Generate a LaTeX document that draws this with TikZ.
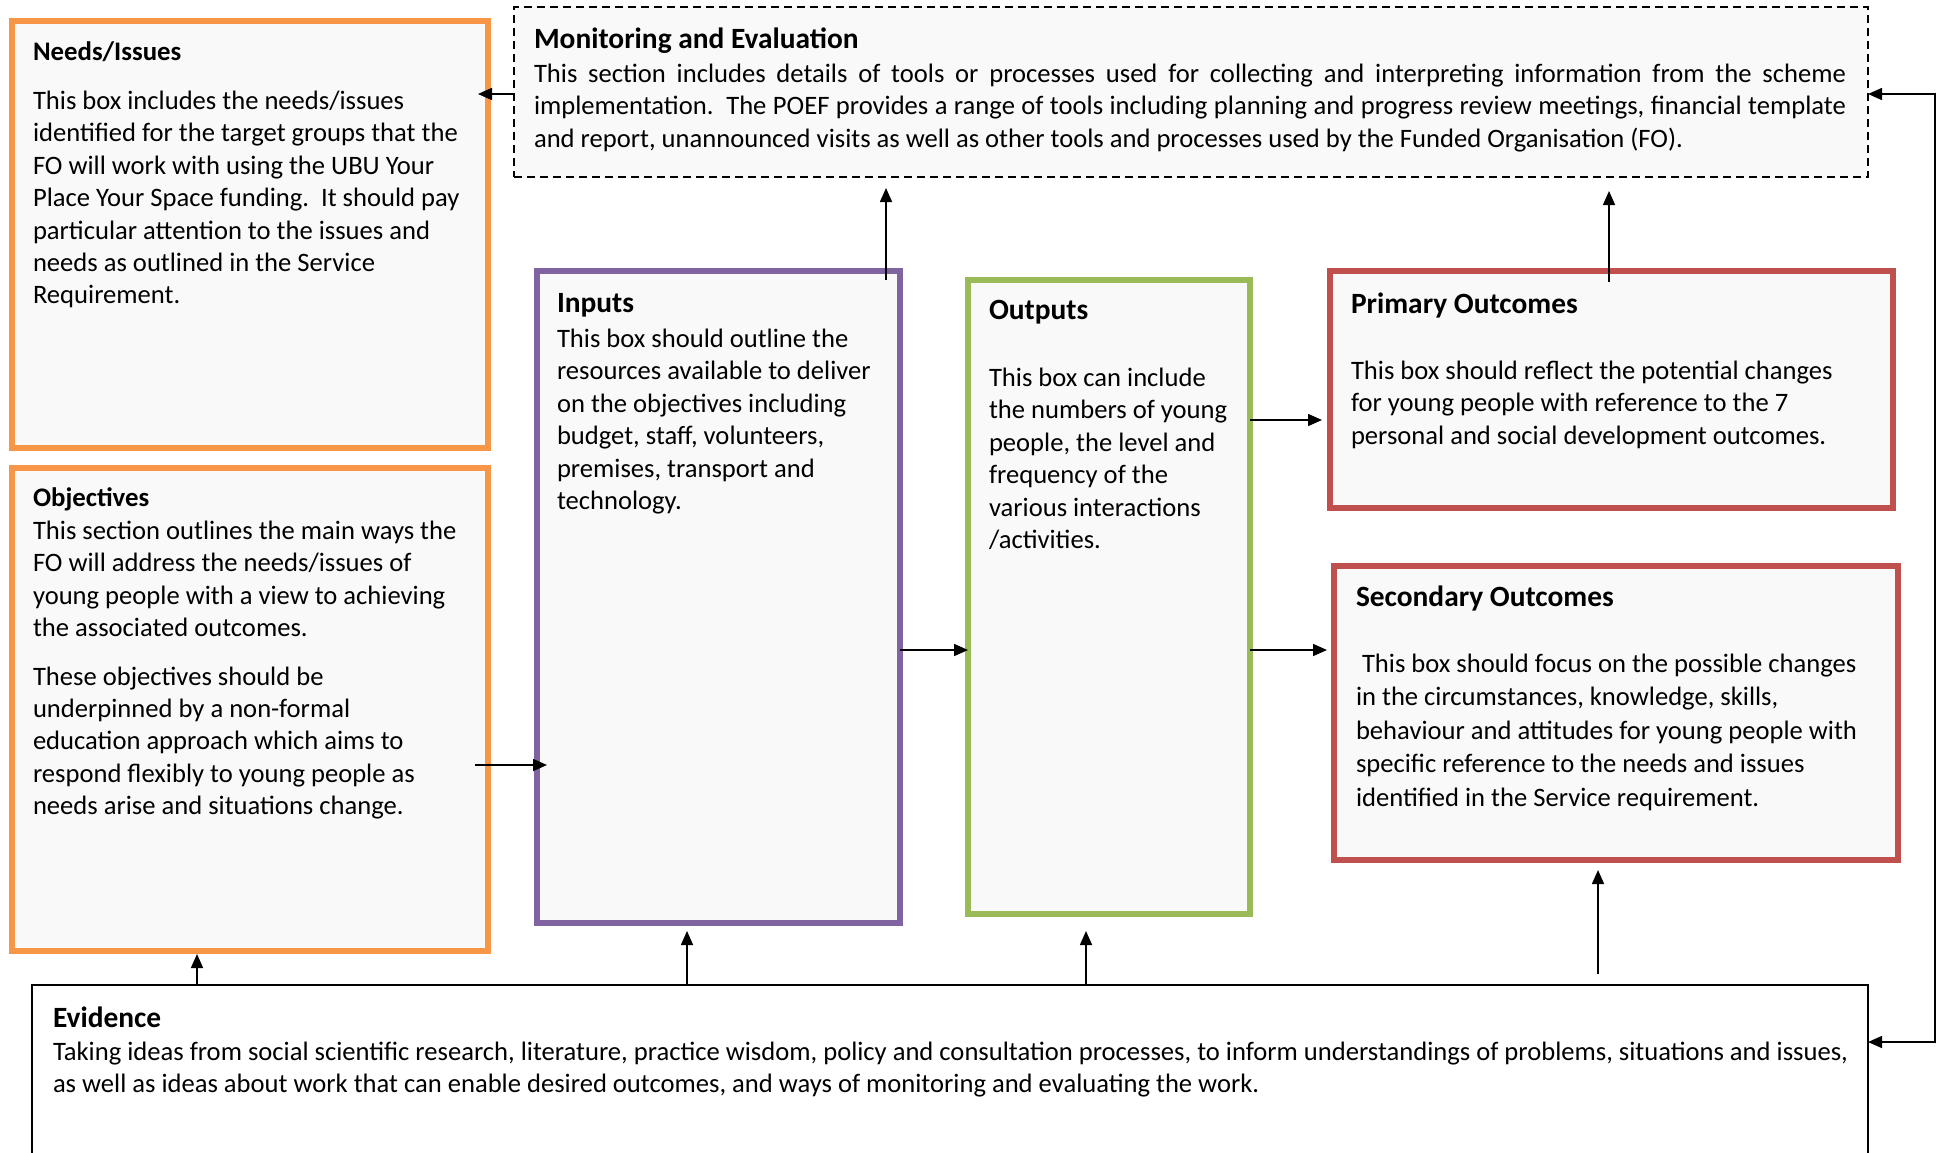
\documentclass[tikz,border=0pt]{standalone}
\usepackage{fontspec}
\setmainfont{Carlito}
\usetikzlibrary{arrows.meta,fit}
\definecolor{orangeb}{HTML}{F79646}
\definecolor{purpleb}{HTML}{8064A2}
\definecolor{greenb}{HTML}{9BBB59}
\definecolor{redb}{HTML}{C0504D}
\definecolor{boxfill}{HTML}{F9F9F9}
\newcommand\bodyfnt{\fontsize{13.3}{16.2}\selectfont}
\newcommand\ttlfnt{\fontsize{13.4}{16}\selectfont\bfseries}
\newcommand\bigttlfnt{\fontsize{14.7}{17}\selectfont\bfseries}
\begin{document}
\begin{tikzpicture}[x=0.5pt,y=-0.5pt,
  cbox/.style={draw=#1, line width=3pt, fill=boxfill, inner sep=0pt, outer sep=0pt},
  txt/.style={anchor=north west, inner sep=0pt, outer sep=0pt, align=left, font=\bodyfnt},
  ttl/.style={anchor=north west, inner sep=0pt, outer sep=0pt, font=\ttlfnt},
  bttl/.style={anchor=north west, inner sep=0pt, outer sep=0pt, font=\bigttlfnt},
  arr/.style={-{Triangle[length=7pt,width=6pt]}, line width=0.8pt},
  darr/.style={{Triangle[length=7pt,width=6pt]}-{Triangle[length=7pt,width=6pt]}, line width=0.8pt}]
\useasboundingbox (0,0) rectangle (1941,1152);
\clip (0,0) rectangle (1941,1152);

% boxes
\node[cbox=orangeb, fit={(12,21) (488,448)}] (needs) {};
\node[cbox=orangeb, fit={(12,468) (488,951)}] (obj) {};
\node[cbox=purpleb, fit={(537,271) (900,923)}] (inp) {};
\node[cbox=greenb, fit={(968,280) (1250,914)}] (outp) {};
\node[cbox=redb, fit={(1330,271) (1893,508)}] (prim) {};
\node[cbox=redb, fit={(1334,566) (1898,860)}] (sec) {};
\node[draw=black, line width=0.9pt, dash pattern=on 4pt off 2.5pt, fill=boxfill, inner sep=0pt, outer sep=0pt, fit={(514,7) (1868,177)}] (mon) {};
\node[draw=black, line width=1pt, fill=white, inner sep=0pt, outer sep=0pt, fit={(32,985) (1868,1170)}] (evi) {};

% texts
\node[ttl] (needsT) at (33,42) {Needs/Issues};
\node[txt] (needsB) at (33,91) {This box includes the needs/issues\\
identified for the target groups that the\\
FO will work with using the UBU Your\\
Place Your Space funding.\ \ It should pay\\
particular attention to the issues and\\
needs as outlined in the Service\\
Requirement.};

\node[ttl] (objT) at (33,488) {Objectives};
\node[txt] (objB) at (33,521) {This section outlines the main ways the\\
FO will address the needs/issues of\\
young people with a view to achieving\\
the associated outcomes.\\[8pt]
These objectives should be\\
underpinned by a non-formal\\
education approach which aims to\\
respond flexibly to young people as\\
needs arise and situations change.};

\node[bttl] (monT) at (534,28) {Monitoring and Evaluation};
\node[txt] (monB) at (534,64) {\makebox[656pt][s]{This section includes details of tools or processes used for collecting and interpreting information from the scheme}\\
\makebox[656pt][s]{implementation.\ \ The POEF provides a range of tools including planning and progress review meetings, financial template}\\
and report, unannounced visits as well as other tools and processes used by the Funded Organisation (FO).};

\node[bttl] (inpT) at (557,293) {Inputs};
\node[txt] (inpB) at (557,329) {This box should outline the\\
resources available to deliver\\
on the objectives including\\
budget, staff, volunteers,\\
premises, transport and\\
technology.};

\node[bttl] (outT) at (989,300) {Outputs};
\node[txt] (outB) at (989,368) {This box can include\\
the numbers of young\\
people, the level and\\
frequency of the\\
various interactions\\
/activities.};

\node[bttl] (primT) at (1351,293) {Primary Outcomes};
\node[txt] (primB) at (1351,361) {This box should reflect the potential changes\\
for young people with reference to the 7\\
personal and social development outcomes.};

\node[bttl] (secT) at (1356,586) {Secondary Outcomes};
\node[txt, font=\fontsize{13.3}{16.7}\selectfont] (secB) at (1356,654) {\ This box should focus on the possible changes\\
in the circumstances, knowledge, skills,\\
behaviour and attitudes for young people with\\
specific reference to the needs and issues\\
identified in the Service requirement.};

\node[bttl] (eviT) at (53,1007) {Evidence};
\node[txt] (eviB) at (53,1042) {Taking ideas from social scientific research, literature, practice wisdom, policy and consultation processes, to inform understandings of problems, situations and issues,\\
as well as ideas about work that can enable desired outcomes, and ways of monitoring and evaluating the work.};

% connectors
\coordinate (loopx) at (1935,94);
\draw[arr] (mon.west |- 0,94) -- ([xshift=-5pt]needs.east |- 0,94);
\draw[arr] ([yshift=-4.5pt]inp.north -| 886,0) -- ([yshift=-5.5pt]mon.south -| 886,0);
\draw[arr] ([yshift=-5.5pt]prim.north -| 1609,0) -- ([yshift=-7pt]mon.south -| 1609,0);
\draw[darr] (mon.east |- loopx) -- (loopx) |- (evi.east |- 0,1042);
\draw[arr] ([xshift=-6.5pt]obj.east |- 0,765) -- ([xshift=5pt]inp.west |- 0,765);
\draw[arr] (inp.east |- 0,650) -- (outp.west |- 0,650);
\draw[arr] (outp.east |- 0,420) -- ([xshift=-4pt]prim.west |- 0,420);
\draw[arr] (outp.east |- 0,650) -- ([xshift=-3.5pt]sec.west |- 0,650);
\draw[arr] (evi.north -| 197,0) -- ([yshift=-1.5pt]obj.south -| 197,0);
\draw[arr] (evi.north -| 687,0) -- ([yshift=-4pt]inp.south -| 687,0);
\draw[arr] (evi.north -| 1086,0) -- ([yshift=-8.5pt]outp.south -| 1086,0);
\draw[arr] ([yshift=5.5pt]evi.north -| 1598,0) -- ([yshift=-5pt]sec.south -| 1598,0);
\end{tikzpicture}
\end{document}
